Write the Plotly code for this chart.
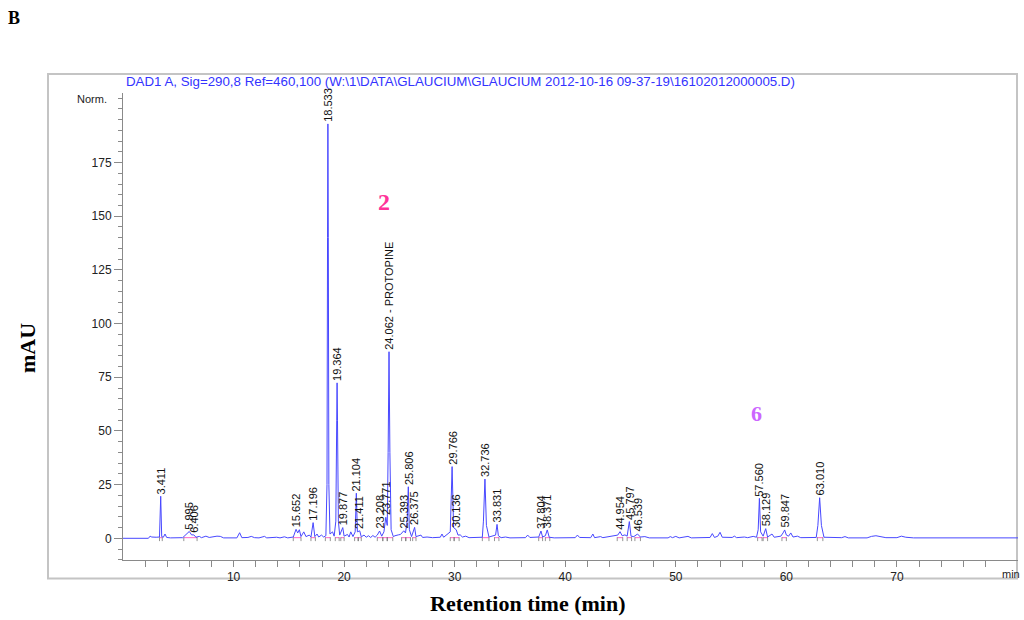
import plotly.graph_objects as go

# ---------------- data ----------------
trace_rt = [0.0, 2.3, 2.45, 2.6, 3.0, 3.3, 3.411, 3.5, 3.65, 3.8, 3.95, 4.3, 5.4, 5.6, 5.8, 5.995, 6.2, 6.406, 6.6,
            6.9, 7.1, 7.5, 7.8, 8.2, 8.5, 8.8, 9.1, 10.3, 10.55, 10.75, 11.3, 11.6, 11.9, 12.3, 12.8, 13.0, 13.9,
            14.2, 14.6, 14.9, 15.4, 15.652, 15.8, 15.95, 16.1, 16.35, 16.55, 16.85, 17.0, 17.196, 17.35, 17.55,
            17.7, 17.95, 18.15, 18.35, 18.45, 18.50, 18.533, 18.57, 18.62, 18.72, 18.95, 19.1, 19.25, 19.33,
            19.364, 19.40, 19.48, 19.6, 19.877, 20.0, 20.3, 20.45, 20.6, 20.8, 21.0, 21.104, 21.2, 21.411, 21.55,
            21.8, 22.0, 22.2, 22.4, 22.6, 22.8, 23.0, 23.208, 23.4, 23.6, 23.771, 23.9, 23.98, 24.062, 24.14,
            24.25, 24.45, 24.6, 24.9, 25.1, 25.393, 25.55, 25.7, 25.806, 25.9, 26.1, 26.375, 26.5, 26.95, 27.1,
            27.5, 28.0, 28.7, 28.85, 29.0, 29.6, 29.766, 29.9, 30.136, 30.3, 30.5, 30.7, 31.0, 31.3, 32.5, 32.6,
            32.736, 32.87, 33.1, 33.7, 33.831, 33.95, 34.2, 34.6, 35.0, 36.4, 36.6, 36.8, 37.6, 37.804, 37.95,
            38.2, 38.371, 38.55, 39.0, 40.9, 41.1, 41.3, 42.3, 42.5, 42.65, 43.2, 43.4, 44.2, 44.5, 44.75, 44.954,
            45.15, 45.4, 45.6, 45.797, 45.95, 46.2, 46.539, 46.8, 47.2, 47.6, 49.3, 49.5, 49.7, 50.0, 50.3, 51.1,
            51.4, 53.1, 53.3, 53.5, 53.8, 54.0, 54.2, 55.1, 55.3, 55.5, 56.2, 56.5, 57.0, 57.3, 57.45, 57.560,
            57.67, 57.9, 58.129, 58.3, 58.7, 58.9, 59.5, 59.7, 59.847, 60.0, 60.2, 60.4, 60.6, 61.0, 61.3, 62.7,
            62.85, 63.010, 63.17, 63.4, 65.0, 65.3, 65.6, 67.3, 67.7, 68.1, 68.5, 69.0, 70.0, 70.4, 70.8, 71.5,
            81.0]
trace_mau = [0.0, 0.0, 1.0, 0.6, 0.5, 0.6, 19.6, 0.8, 0.5, 2.0, 0.4, 0.2, 0.3, 1.2, 2.0, 3.2, 1.6, 1.6, 0.5,
             0.9, 0.3, 1.0, 0.4, 0.8, 1.0, 0.9, 0.2, 0.2, 2.6, 0.3, 0.4, 0.9, 0.3, 0.2, 0.9, 0.2, 0.5,
             0.2, 0.7, 0.2, 0.6, 4.2, 2.5, 4.0, 0.8, 3.0, 0.8, 1.5, 0.6, 7.3, 0.8, 2.0,
             0.6, 1.5, 0.6, 1.2, 25.0, 140.0, 193.0, 140.0, 25.0, 2.0, 3.0, 1.0, 8.0, 55.0,
             72.4, 55.0, 8.0, 1.5, 5.0, 1.0, 1.8, 0.6, 3.0, 0.8, 3.0, 21.0, 3.0, 3.5, 0.7,
             1.5, 0.5, 1.2, 0.4, 1.3, 0.5, 1.5, 3.4, 1.0, 3.0, 9.8, 6.0, 40.0, 86.9, 40.0,
             4.0, 0.8, 1.2, 1.6, 1.8, 3.5, 2.5, 8.0, 24.0, 4.0, 0.8, 5.1, 0.8, 1.5, 0.4,
             0.6, 0.3, 0.5, 2.0, 0.5, 3.0, 33.4, 5.0, 4.0, 1.5, 1.6, 0.6, 1.0, 0.3, 0.5, 8.0,
             27.6, 6.0, 0.6, 1.5, 6.5, 1.2, 0.3, 0.6, 0.2, 0.3, 1.5, 0.4, 0.6, 3.4, 0.6,
             1.2, 3.9, 0.5, 0.2, 0.3, 1.5, 0.4, 0.3, 2.0, 0.3, 0.8, 0.3, 0.9, 1.0, 1.5, 3.1,
             1.2, 1.6, 1.0, 7.8, 1.0, 0.8, 2.0, 0.6, 0.8, 0.2, 0.2, 0.8, 0.3, 0.9, 0.2, 0.9,
             0.2, 0.4, 2.2, 0.4, 1.0, 2.8, 0.5, 0.4, 1.0, 0.3, 0.6, 0.3, 0.9, 0.5, 4.0, 18.6,
             3.0, 1.0, 4.5, 0.6, 2.0, 0.5, 1.0, 2.5, 3.9, 1.5, 1.0, 2.5, 0.6, 1.0, 0.3, 0.4,
             6.0, 18.9, 6.0, 0.5, 0.3, 0.8, 0.2, 0.2, 0.9, 1.2, 0.8, 0.3, 0.3, 1.0, 0.5, 0.2,
             0.2]

label_rt = [3.411, 5.995, 6.406, 15.652, 17.196, 18.533, 19.364, 19.877, 21.104, 21.411, 23.208, 23.771,
            24.062, 25.393, 25.806, 26.375, 29.766, 30.136, 32.736, 33.831, 37.804, 38.371, 44.954, 45.797,
            46.539, 57.560, 58.129, 59.847, 63.010]
label_mau = [19.6, 3.2, 1.6, 4.2, 7.3, 193.0, 72.4, 5.0, 21.0, 3.5, 3.4, 9.8,
             86.9, 3.5, 24.0, 5.1, 33.4, 4.0, 27.6, 6.5, 3.4, 3.9, 3.1, 7.8,
             2.0, 18.6, 4.5, 3.9, 18.9]
label_text = ["3.411", "5.995", "6.406", "15.652", "17.196", "18.533", "19.364", "19.877", "21.104", "21.411",
              "23.208", "23.771", "24.062 - PROTOPINE", "25.393", "25.806", "26.375", "29.766", "30.136",
              "32.736", "33.831", "37.804", "38.371", "44.954", "45.797", "46.539", "57.560", "58.129",
              "59.847", "63.010"]

integ_start = [3.3, 5.5, 15.4, 17.0, 18.3, 19.2, 19.7, 20.95, 21.3, 23.0, 23.5, 23.9, 25.2, 25.6, 26.2,
               29.6, 29.95, 32.5, 33.6, 37.6, 38.2, 44.7, 45.6, 46.3, 57.4, 57.9, 59.6, 62.8]
integ_end = [3.55, 6.7, 16.1, 17.4, 18.75, 19.55, 20.0, 21.25, 21.55, 23.5, 23.9, 24.4, 25.55, 26.0, 26.5,
             29.95, 30.4, 33.1, 34.0, 37.95, 38.6, 45.2, 46.0, 46.8, 57.8, 58.3, 60.0, 63.3]

x_tick_vals = list(range(2, 80, 2))
x_tick_text = [str(v) if v % 10 == 0 else "" for v in x_tick_vals]
y_tick_vals = [0, 25, 50, 75, 100, 125, 150, 175]
y_tick_text = ["0", "25", "50", "75", "100", "125", "150", "175"]

header_text = "DAD1 A, Sig=290,8 Ref=460,100 (W:\\1\\DATA\\GLAUCIUM\\GLAUCIUM 2012-10-16 09-37-19\\16102012000005.D)"

# ---------------- layout helpers ----------------
W, H = 1024, 620
L, R, T, B = 123, 6, 93, 60
PW, PH = W - L - R, H - T - B


def px(x):
    return (x - L) / PW


def py(y):
    return (H - B - y) / PH


fig = go.Figure()

# integration baselines (pink) and boundary ticks
pink_x, pink_y, tick_x, tick_y = [], [], [], []
for s, e in zip(integ_start, integ_end):
    pink_x += [s, e, None]
    pink_y += [0.3, 0.3, None]
    tick_x += [s, s, None, e, e, None]
    tick_y += [-1.3, 0.5, None, -1.3, 0.5, None]

fig.add_trace(go.Scatter(x=pink_x, y=pink_y, mode="lines",
                         line=dict(color="#FF66CC", width=1), hoverinfo="skip", showlegend=False))
fig.add_trace(go.Scatter(x=tick_x, y=tick_y, mode="lines",
                         line=dict(color="#666666", width=0.7), hoverinfo="skip", showlegend=False))
fig.add_trace(go.Scatter(x=trace_rt, y=trace_mau, mode="lines",
                         line=dict(color="#4848FF", width=1), showlegend=False))

annotations = []
for rt, h, txt in zip(label_rt, label_mau, label_text):
    annotations.append(dict(x=rt, y=h, xref="x", yref="y", text=txt, textangle=-90,
                            showarrow=False, xanchor="center", yanchor="bottom", yshift=0,
                            font=dict(family="Arial, Liberation Sans", size=11, color="#111111")))

serif = "Times New Roman, Liberation Serif"
annotations += [
    dict(x=px(124), y=py(81), xref="paper", yref="paper", text=header_text, showarrow=False,
         xanchor="left", yanchor="middle", font=dict(family="Arial, Liberation Sans", size=13.3, color="#3333FF")),
    dict(x=px(109), y=py(99), xref="paper", yref="paper", text="Norm.", showarrow=False,
         xanchor="right", yanchor="middle", font=dict(family="Arial, Liberation Sans", size=11, color="#222222")),
    dict(x=px(1011), y=py(574), xref="paper", yref="paper", text="min", showarrow=False,
         xanchor="center", yanchor="middle", font=dict(family="Arial, Liberation Sans", size=11, color="#222222")),
    dict(x=px(14), y=py(18), xref="paper", yref="paper", text="<b>B</b>", showarrow=False,
         xanchor="center", yanchor="middle", font=dict(family=serif, size=18, color="#000000")),
    dict(x=px(27), y=py(348), xref="paper", yref="paper", text="<b>mAU</b>", showarrow=False, textangle=-90,
         xanchor="center", yanchor="middle", font=dict(family=serif, size=22, color="#000000")),
    dict(x=px(528), y=py(603), xref="paper", yref="paper", text="<b>Retention time (min)</b>", showarrow=False,
         xanchor="center", yanchor="middle", font=dict(family=serif, size=22, color="#000000")),
    dict(x=px(384), y=py(202), xref="paper", yref="paper", text="<b>2</b>", showarrow=False,
         xanchor="center", yanchor="middle", font=dict(family=serif, size=24, color="#FF3399")),
    dict(x=px(756), y=py(413), xref="paper", yref="paper", text="<b>6</b>", showarrow=False,
         xanchor="center", yanchor="middle", font=dict(family=serif, size=22, color="#CC66FF")),
]

fig.update_layout(
    width=W, height=H,
    margin=dict(l=L, r=R, t=T, b=B),
    paper_bgcolor="white", plot_bgcolor="white",
    annotations=annotations,
    shapes=[dict(type="rect", xref="paper", yref="paper",
                 x0=px(48), x1=px(1017), y0=py(578.5), y1=py(74),
                 line=dict(color="#C4C4C4", width=2), layer="below")],
    xaxis=dict(range=[0, 80.95], showgrid=False, zeroline=False, showline=True, linecolor="#8A8A8A",
               linewidth=1, ticks="outside", ticklen=6, tickcolor="#8A8A8A",
               tickvals=x_tick_vals, ticktext=x_tick_text,
               tickfont=dict(family="Arial, Liberation Sans", size=12, color="#222222")),
    yaxis=dict(range=[-10.1, 207.4], showgrid=False, zeroline=False, showline=True, linecolor="#8A8A8A",
               linewidth=1, ticks="outside", ticklen=8, tickcolor="#8A8A8A",
               tickvals=y_tick_vals, ticktext=y_tick_text,
               minor=dict(dtick=5, tick0=0, ticks="outside", ticklen=4, tickcolor="#8A8A8A"),
               tickfont=dict(family="Arial, Liberation Sans", size=12, color="#222222")),
)

fig.write_html("out.html", config={"displayModeBar": False},
               post_script="document.body.style.margin='0';document.body.style.overflow='hidden';")
